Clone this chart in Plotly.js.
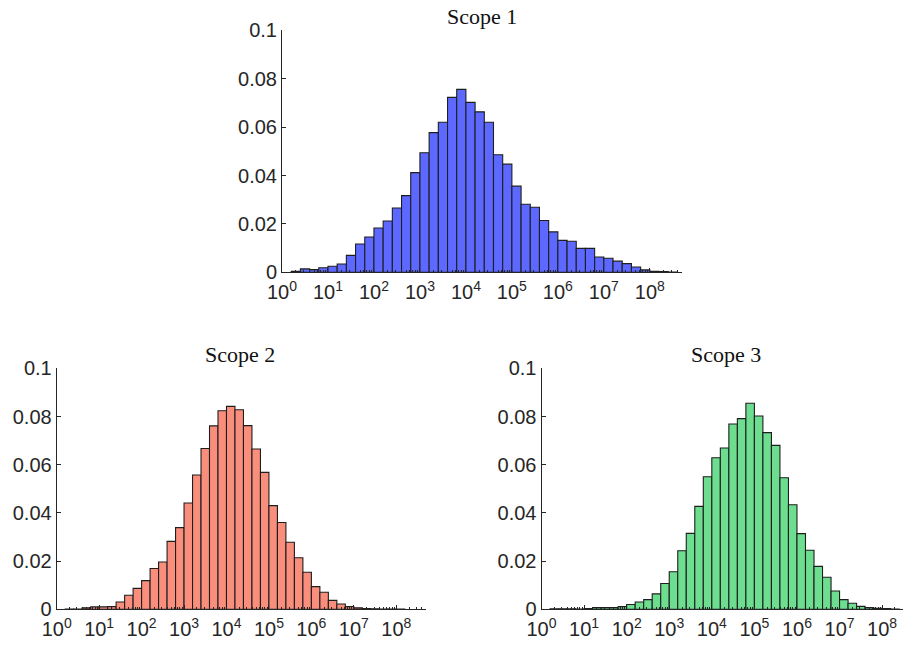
<!DOCTYPE html>
<html>
<head>
<meta charset="utf-8">
<script src="https://cdn.plot.ly/plotly-3.0.1.min.js"></script>
<style>html,body{margin:0;padding:0;background:#fff;}#chart{width:904px;height:645px;}</style>
</head>
<body>
<div id="chart"></div>
<script>
// Histogram bins: log10(x) bins of width 0.2, first bin starting at 10^0.2
var binWidth = 0.2;
var scope1FirstEdge = 0.2;
var scope2FirstEdge = 0.2;
var scope3FirstEdge = 0.2;

var scope1Values = [0.0004, 0.0014, 0.0011, 0.0019, 0.0025, 0.0034, 0.007, 0.0117, 0.0146, 0.0183,
  0.0212, 0.0266, 0.0317, 0.0412, 0.0494, 0.0577, 0.062, 0.0723, 0.0756, 0.0702,
  0.0663, 0.062, 0.0486, 0.0447, 0.0356, 0.0281, 0.0269, 0.0214, 0.0167, 0.0132,
  0.0128, 0.0099, 0.0099, 0.0063, 0.0058, 0.0046, 0.0036, 0.0022, 0.001, 0.0004,
  0.0003, 0.0001];

var scope2Values = [0.0001, 0.0001, 0.0006, 0.001, 0.001, 0.0011, 0.003, 0.0058, 0.0087, 0.0119,
  0.0169, 0.0196, 0.0282, 0.0339, 0.0441, 0.0557, 0.0667, 0.0761, 0.0824, 0.0842,
  0.0828, 0.0762, 0.0665, 0.0568, 0.043, 0.036, 0.0278, 0.0214, 0.0154, 0.0094,
  0.0071, 0.0037, 0.0022, 0.0011, 0.0006, 0.0003, 0.0002, 0.0001, 0.0001, 0.0001];

var scope3Values = [0.0002, 0.0002, 0.0002, 0.0001, 0.0003, 0.0007, 0.0007, 0.0007, 0.0011, 0.002,
  0.003, 0.004, 0.0064, 0.0107, 0.0156, 0.0243, 0.0315, 0.0427, 0.055, 0.0629,
  0.0669, 0.0769, 0.0791, 0.0855, 0.0802, 0.0733, 0.068, 0.0546, 0.0434, 0.0314,
  0.0245, 0.0178, 0.0133, 0.0076, 0.004, 0.0025, 0.0012, 0.0007, 0.0004, 0.0003,
  0.0001];

var titles = ["Scope 1", "Scope 2", "Scope 3"];
var colors = ["#5c68ff", "#fa8e7c", "#6ddd8f"];
var xTickExponents = [0, 1, 2, 3, 4, 5, 6, 7, 8];
var yTickVals = [0, 0.02, 0.04, 0.06, 0.08, 0.1];
var yTickText = ["0", "0.02", "0.04", "0.06", "0.08", "0.1"];

function centers(firstEdge, values) {
  return values.map(function (v, i) { return firstEdge + binWidth * (i + 0.5); });
}

var textColor = "#262626";
var tickFont = {family: "Liberation Sans, Arial, sans-serif", size: 20, color: textColor};
var titleFont = {family: "Liberation Serif, Times New Roman, serif", size: 22, color: "#111"};

function barTrace(firstEdge, values, color, xa, ya) {
  return {
    type: "bar",
    x: centers(firstEdge, values),
    y: values,
    width: binWidth,
    xaxis: xa, yaxis: ya,
    marker: {color: color, line: {color: "#1e1e1e", width: 1.1}},
    hoverinfo: "skip"
  };
}

var data = [
  barTrace(scope1FirstEdge, scope1Values, colors[0], "x", "y"),
  barTrace(scope2FirstEdge, scope2Values, colors[1], "x2", "y2"),
  barTrace(scope3FirstEdge, scope3Values, colors[2], "x3", "y3")
];

function minorVals(maxRange) {
  var out = [];
  for (var k = 0; k <= 8; k++) {
    for (var m = 2; m <= 9; m++) {
      var v = k + Math.log10(m);
      if (v < maxRange) out.push(v);
    }
  }
  return out;
}

function xAxis(domain, maxRange, anchor) {
  return {
    domain: domain, range: [0, maxRange], anchor: anchor,
    tickmode: "array", tickvals: xTickExponents,
    ticktext: xTickExponents.map(function (e) { return "10<sup>" + e + "</sup>"; }),
    ticks: "inside", ticklen: 4, tickcolor: textColor, tickwidth: 1,
    minor: {tickmode: "array", tickvals: minorVals(maxRange), ticks: "inside", ticklen: 2, tickcolor: textColor, tickwidth: 1},
    showline: true, linecolor: textColor, linewidth: 1,
    showgrid: false, zeroline: false, fixedrange: true,
    tickfont: tickFont, ticklabelstandoff: 2
  };
}

function yAxis(domain, anchor) {
  return {
    domain: domain, range: [0, 0.1], anchor: anchor,
    tickmode: "array", tickvals: yTickVals, ticktext: yTickText,
    ticks: "inside", ticklen: 4, tickcolor: textColor, tickwidth: 1,
    showline: true, linecolor: textColor, linewidth: 1,
    showgrid: false, zeroline: false, fixedrange: true,
    tickfont: tickFont, ticklabelstandoff: 0
  };
}

var W = 904, H = 645;
function px(x) { return x / W; }
function py(y) { return 1 - y / H; }

var layout = {
  width: W, height: H,
  margin: {l: 0, r: 0, t: 0, b: 0},
  paper_bgcolor: "#ffffff", plot_bgcolor: "rgba(0,0,0,0)",
  showlegend: false, bargap: 0,
  xaxis: xAxis([px(282), px(682)], 8.7, "y"),
  yaxis: yAxis([py(272.3), py(30.3)], "x"),
  xaxis2: xAxis([px(56.7), px(426)], 8.7, "y2"),
  yaxis2: yAxis([py(609.3), py(368.3)], "x2"),
  xaxis3: xAxis([px(541.5), px(903)], 8.49, "y3"),
  yaxis3: yAxis([py(609.3), py(368.3)], "x3"),
  annotations: [
    {text: titles[0], x: px(482), y: py(16), xref: "paper", yref: "paper", showarrow: false,
     xanchor: "center", yanchor: "middle", font: titleFont},
    {text: titles[1], x: px(239.5), y: py(354), xref: "paper", yref: "paper", showarrow: false,
     xanchor: "center", yanchor: "middle", font: titleFont},
    {text: titles[2], x: px(726), y: py(354), xref: "paper", yref: "paper", showarrow: false,
     xanchor: "center", yanchor: "middle", font: titleFont}
  ]
};

Plotly.newPlot("chart", data, layout, {displayModeBar: false, staticPlot: true});
</script>
</body>
</html>
